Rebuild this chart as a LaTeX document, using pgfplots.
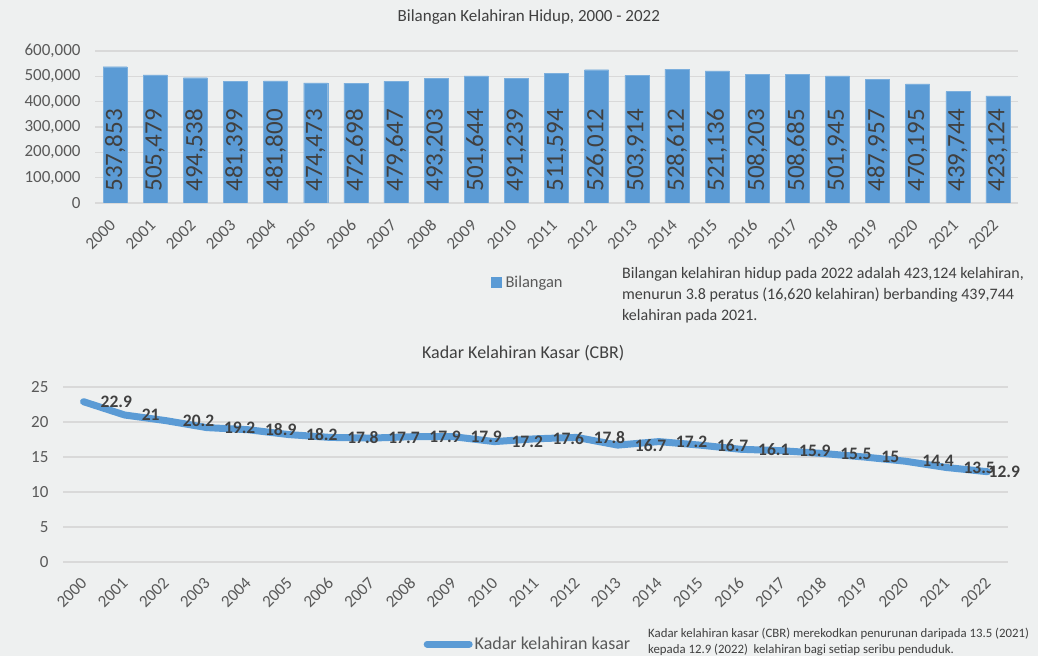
\documentclass[border=0pt]{standalone}
\usepackage{pgfplots}
\pgfplotsset{compat=1.18}
\usepackage{pgfplotstable}
\usepackage{fontspec}
\setmainfont{Carlito}
\definecolor{barblue}{HTML}{5B9BD5}
\definecolor{txtgray}{HTML}{595959}
\definecolor{lblgray}{HTML}{404040}
\definecolor{gridgray}{HTML}{D9D9D9}
\definecolor{bggray}{HTML}{EEF0F0}

\pgfplotstableread{
x y
0 537853
1 505479
2 494538
3 481399
4 481800
5 474473
6 472698
7 479647
8 493203
9 501644
10 491239
11 511594
12 526012
13 503914
14 528612
15 521136
16 508203
17 508685
18 501945
19 487957
20 470195
21 439744
22 423124
}\bardata

\pgfplotstableread{
x y
0 22.9
1 21
2 20.2
3 19.2
4 18.9
5 18.2
6 17.8
7 17.7
8 17.9
9 17.9
10 17.2
11 17.6
12 17.8
13 16.7
14 17.2
15 16.7
16 16.1
17 15.9
18 15.5
19 15
20 14.4
21 13.5
22 12.9
}\cbrdata

\pgfplotsset{
  common/.style={
    scale only axis,
    xmin=-0.5, xmax=22.5,
    xtick={0,...,22},
    xticklabels={2000,2001,2002,2003,2004,2005,2006,2007,2008,2009,2010,2011,2012,2013,2014,2015,2016,2017,2018,2019,2020,2021,2022},
    axis x line*=bottom, axis y line*=left,
    axis line style={draw=none},
    major tick length=0pt,
    ymajorgrids,
    grid style={draw=gridgray, line width=1.5pt},
    tick label style={text=txtgray},
    /pgf/number format/assume math mode=true,
  }
}

\begin{document}
\begin{tikzpicture}[x=1pt,y=1pt]
\fill[bggray] (0,0) rectangle (1038,656);
\useasboundingbox (0,0) rectangle (1038,656);

% ---------- Top chart ----------
\begin{axis}[common,
  at={(95pt,453pt)}, anchor=south west,
  width=923pt, height=152pt,
  ymin=0, ymax=600000,
  ytick={0,100000,200000,300000,400000,500000,600000},
  scaled y ticks=false,
  /pgf/number format/fixed, /pgf/number format/1000 sep={,},
  yticklabel style={font=\fontsize{17}{20}\selectfont, xshift=-11pt},
  xticklabel style={font=\fontsize{17}{20}\selectfont, rotate=45, anchor=east, xshift=-12pt, yshift=-12pt},
  title={Bilangan Kelahiran Hidup, 2000 - 2022},
  title style={at={(0.47,1)}, anchor=center, yshift=28pt, font=\fontsize{17}{20}\selectfont, text=lblgray},
  legend style={at={(0.469,-0.52)}, anchor=center, draw=none, fill=none,
    font=\fontsize{16.5}{19}\selectfont, text=txtgray},
  legend image code/.code={\fill[barblue] (-2pt,-5pt) rectangle (8pt,5pt);},
]
\addplot[ybar, bar width=24pt, fill=barblue, draw=barblue!80!white] table[x=x,y=y] {\bardata};
\addlegendentry{\hspace{2pt}Bilangan}
\addplot[draw=none, mark=none, forget plot,
  nodes near coords, point meta=explicit,
  every node near coord/.append style={rotate=90, anchor=west, font=\fontsize{25}{29}\selectfont, text=lblgray, inner sep=0pt, outer sep=0pt},
] table[x=x, y expr=45000, meta=y] {\bardata};
\end{axis}

\node[anchor=north west, align=left, text=lblgray, font=\fontsize{16}{21}\selectfont, inner sep=0pt] at (622,389)
{Bilangan kelahiran hidup pada 2022 adalah 423,124 kelahiran,\\
menurun 3.8 peratus (16,620 kelahiran) berbanding 439,744\\
kelahiran pada 2021.};

% ---------- Bottom chart ----------
\begin{axis}[common,
  at={(63pt,94pt)}, anchor=south west,
  width=945pt, height=175pt,
  ymin=0, ymax=25,
  ytick={0,5,10,15,20,25},
  yticklabel style={font=\fontsize{17}{20}\selectfont, xshift=-11pt},
  xticklabel style={font=\fontsize{17}{20}\selectfont, rotate=45, anchor=east, xshift=-9pt, yshift=-13pt},
  title={Kadar Kelahiran Kasar (CBR)},
  title style={at={(0.487,1)}, anchor=center, yshift=28pt, font=\fontsize{18}{21}\selectfont, text=lblgray},
  legend style={at={(0.492,-0.469)}, anchor=center, draw=none, fill=none,
    font=\fontsize{18}{21}\selectfont, text=txtgray},
  legend image code/.code={\draw[#1, line width=7pt] (0pt,0pt) -- (42pt,0pt);},
]
\addplot[barblue, line width=7pt, line join=round, line cap=round, mark=none] table[x=x,y=y] {\cbrdata};
\addlegendentry{Kadar kelahiran kasar}
\addplot[draw=none, mark=none, forget plot,
  nodes near coords, point meta=explicit symbolic,
  every node near coord/.append style={anchor=west, xshift=16pt, font=\fontsize{17.5}{20}\selectfont\bfseries, text=lblgray, inner sep=1pt},
] table[x=x, y=y, meta=y, skip coords between index={22}{23}] {\cbrdata};
\addplot[draw=none, mark=none, forget plot,
  nodes near coords, point meta=explicit symbolic,
  every node near coord/.append style={anchor=west, xshift=0pt, font=\fontsize{17.5}{20}\selectfont\bfseries, text=lblgray, inner sep=1pt},
] table[x=x, y=y, meta=y, skip coords between index={0}{22}] {\cbrdata};
\end{axis}

\node[anchor=north west, align=left, text=lblgray, font=\fontsize{12.8}{15.5}\selectfont, inner sep=0pt] at (648,28)
{Kadar kelahiran kasar (CBR) merekodkan penurunan daripada 13.5 (2021)\\
kepada 12.9 (2022)\ \ kelahiran bagi setiap seribu penduduk.};
\end{tikzpicture}
\end{document}
